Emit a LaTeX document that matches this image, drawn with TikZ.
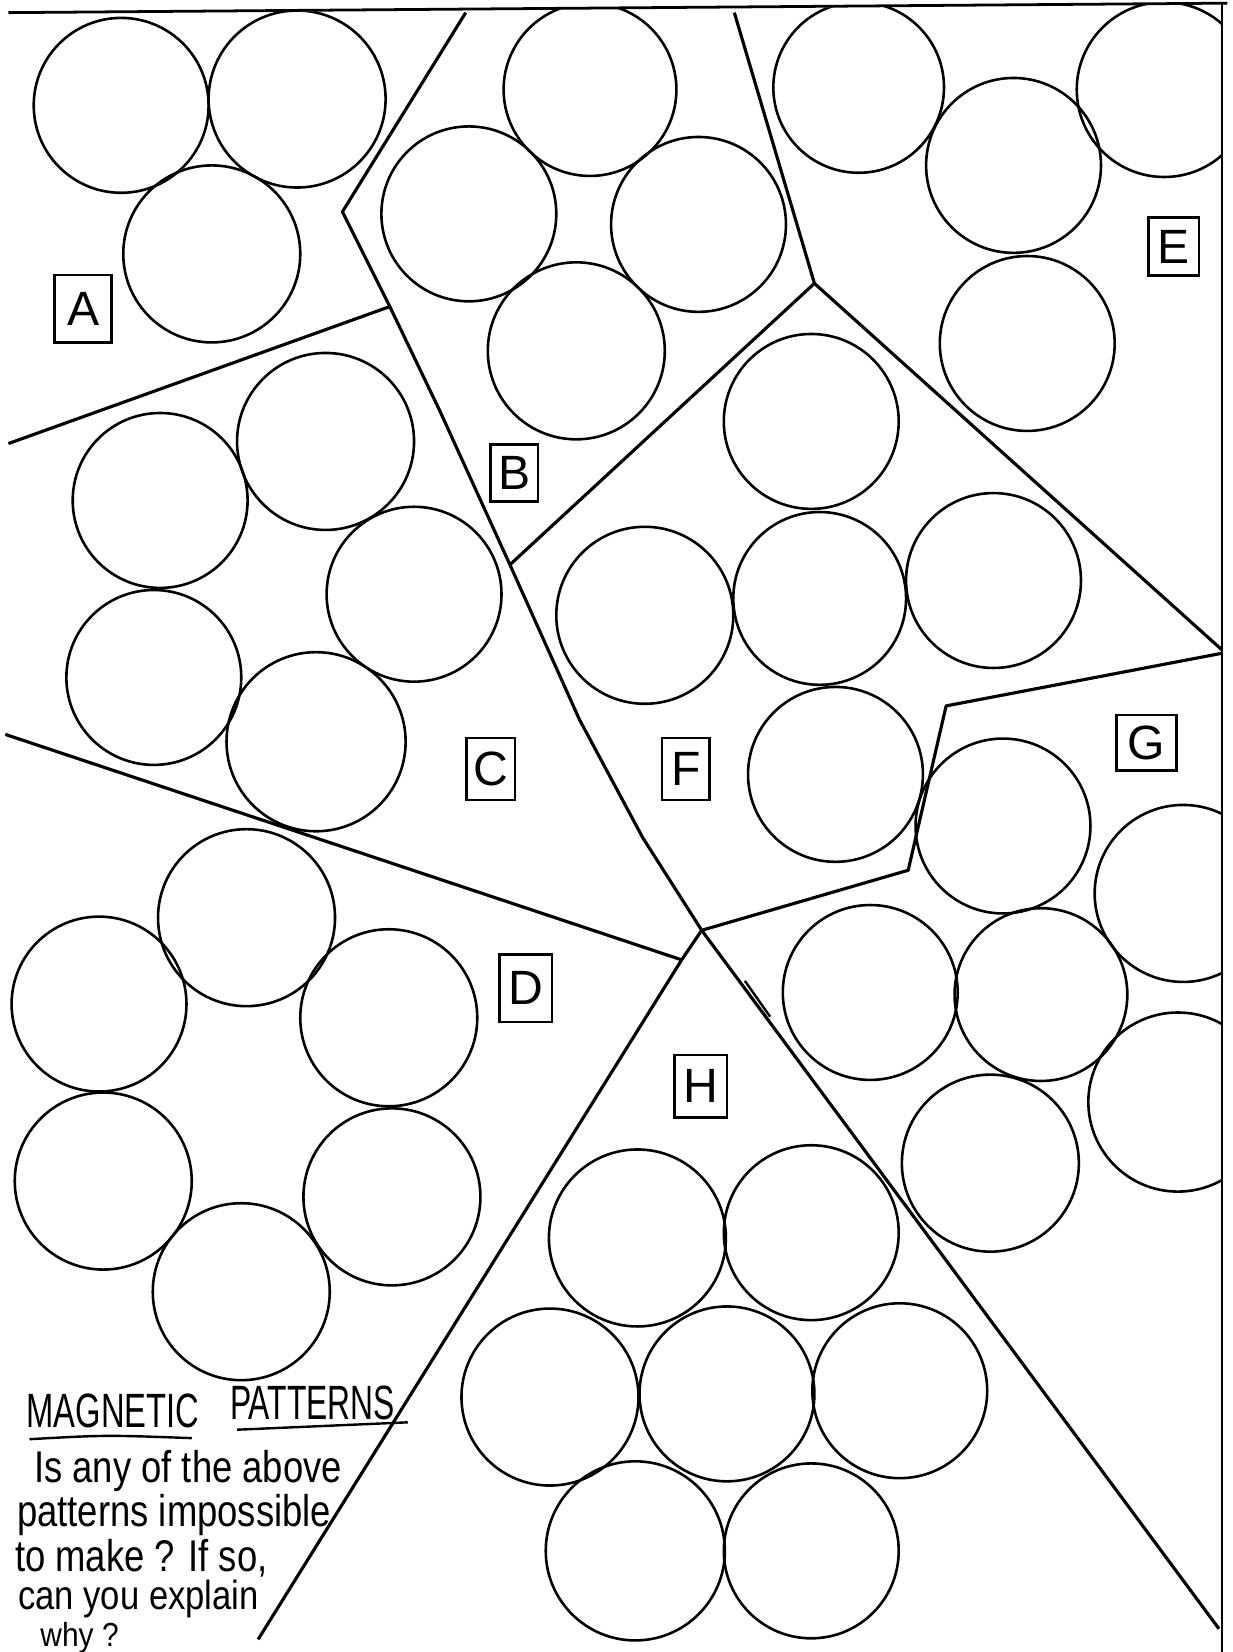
\documentclass[tikz,border=0pt]{standalone}
\usepackage{fontspec}
\setmainfont{Liberation Sans}
\usepackage{tikz}

\begin{document}
\begin{tikzpicture}[x=0.02cm, y=-0.02cm,
    disc/.style={line width=1.4pt},
    edge/.style={line width=1.7pt, line join=round},
    lbl/.style={draw, line width=1.4pt, inner sep=0pt, font=\fontsize{26}{26}\selectfont},
    hand/.style={anchor=base west, inner sep=0pt, font=\fontsize{24}{24}\selectfont}]
  \useasboundingbox (0,0) rectangle (1170,1568);

  \begin{scope}
    \clip (0,13) -- (1160,4) -- (1160,1568) -- (0,1568) -- cycle;
    % A
    \foreach \cx/\cy/\r in {115/100/83, 282/94/84, 201/241/84}
      \draw[disc] (\cx,\cy) circle (\r);
    % B
    \foreach \cx/\cy/\r in {560/85/82, 445/203/83, 663/213/83, 547/333/84}
      \draw[disc] (\cx,\cy) circle (\r);
    % E
    \foreach \cx/\cy/\r in {815/83/81, 1105/85/83, 962/157/83, 975/326/83}
      \draw[disc] (\cx,\cy) circle (\r);
    % C
    \foreach \cx/\cy/\r in {152/475/83, 309/419/84, 393/564/83, 146/643/83, 300/704/85}
      \draw[disc] (\cx,\cy) circle (\r);
    % F
    \foreach \cx/\cy/\r in {770/400/83, 612/584/84, 778/568/82, 943/551/83, 793/735/83}
      \draw[disc] (\cx,\cy) circle (\r);
    % G
    \foreach \cx/\cy/\r in {952/784/83, 1123/848/84, 826/942/83, 988/944/82, 1118/1046/85, 940/1104/84}
      \draw[disc] (\cx,\cy) circle (\r);
    % D
    \foreach \cx/\cy/\r in {234/871/84, 94/953/83, 369/966/84, 98/1121/84, 372/1136/84, 229/1226/84}
      \draw[disc] (\cx,\cy) circle (\r);
    % H
    \foreach \cx/\cy/\r in {605/1175/84, 770/1170/83, 522/1326/84, 690/1323/83, 854/1320/83, 603/1472/85, 770/1472/83}
      \draw[disc] (\cx,\cy) circle (\r);
  \end{scope}

  % frame
  \draw[line width=1.5pt] (8,12) -- (1165,3);
  \draw[line width=1.3pt] (1160,3) -- (1160,1568);

  % region boundaries
  \coordinate (bv) at (325,201);
  \coordinate (ev) at (773,269);
  \coordinate (apex) at (666,883);
  \coordinate (ac) at (370,291);
  \coordinate (bf) at (484,536);
  \coordinate (cd) at (647,911);
  \draw[edge] (442,12) -- (bv) -- (ac) -- (417,389) -- (bf) -- (550,683) -- (610,795) -- (apex);
  \draw[edge] (8,421) -- (ac);
  \draw[edge] (5,697) -- (cd);
  \draw[edge] (apex) -- (cd) -- (245,1556);
  \draw[edge] (apex) -- (1157,1546);
  \draw[edge] (apex) -- (862,826) -- (898,670) -- (1160,620);
  \draw[edge] (697,12) -- (ev);
  \draw[edge] (bf) -- (ev) -- (1160,617);
  \draw[line width=1.3pt] (707,931) -- (731,965);

  % labels
  \node[lbl, minimum width=1.08cm, minimum height=1.28cm] (labA) at (79,293) {A};
  \node[lbl, minimum width=0.90cm, minimum height=1.08cm] (labB) at (488,449) {B};
  \node[lbl, minimum width=0.92cm, minimum height=1.18cm] (labC) at (466,730) {C};
  \node[lbl, minimum width=1.00cm, minimum height=1.28cm] (labD) at (499,938) {D};
  \node[lbl, minimum width=0.96cm, minimum height=1.10cm] (labE) at (1114,234) {E};
  \node[lbl, minimum width=0.90cm, minimum height=1.18cm] (labF) at (651,730) {F};
  \node[lbl, minimum width=1.14cm, minimum height=1.06cm] (labG) at (1088,705) {G};
  \node[lbl, minimum width=1.00cm, minimum height=1.18cm] (labH) at (665,1031) {H};

  % question
  \node[hand, font=\fontsize{26}{26}\selectfont] (ttlA) at (25,1355) {\scalebox{0.68}[1]{MAGNETIC}};
  \node[hand, font=\fontsize{26}{26}\selectfont] (ttlB) at (218,1347) {\scalebox{0.66}[1]{PATTERNS}};
  \draw[line width=1.3pt] (28,1366) .. controls (100,1362) .. (182,1365);
  \draw[line width=1.3pt] (225,1357) -- (387,1350);
  \node[hand] (q1) at (32,1407) {\scalebox{0.82}[1]{Is any of the above}};
  \node[hand] (q2) at (16,1449) {\scalebox{0.82}[1]{patterns impossible}};
  \node[hand] (q3) at (14,1492) {\scalebox{0.82}[1]{to make ? If so,}};
  \node[hand, font=\fontsize{22}{22}\selectfont] (q4) at (17,1528) {\scalebox{0.85}[1]{can you explain}};
  \node[hand, font=\fontsize{18}{18}\selectfont] (q5) at (38,1563) {\scalebox{0.9}[1]{why ?}};
\end{tikzpicture}
\end{document}
